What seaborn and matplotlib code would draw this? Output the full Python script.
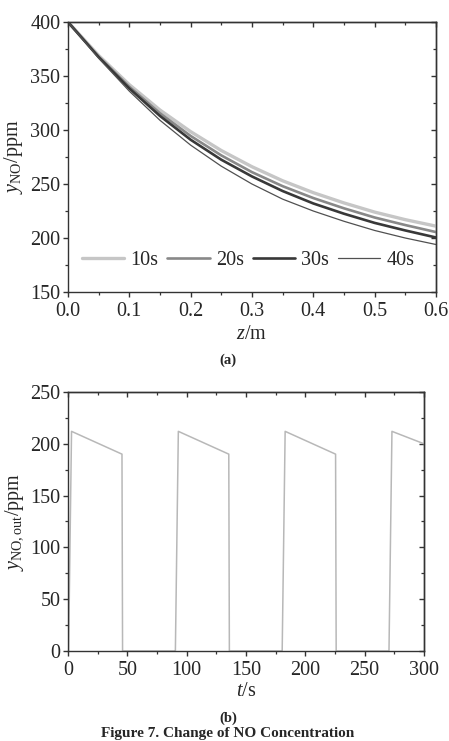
import numpy as np
import pandas as pd
import seaborn as sns
import matplotlib
matplotlib.use("Agg")
import matplotlib.pyplot as plt
from matplotlib.ticker import MultipleLocator

# panel (a): NO concentration along the bed at different times
z_pos = [0.0, 0.05, 0.1, 0.15, 0.2, 0.25, 0.3, 0.35, 0.4, 0.45, 0.5, 0.55, 0.6]
y_10s = [400, 369, 342, 318.5, 298.5, 281, 266, 253, 242, 232.5, 224, 217, 211]
y_20s = [400, 368, 340, 315.5, 294.5, 276.5, 261, 248, 237, 227.5, 219, 212, 205.5]
y_30s = [400, 367.5, 338.5, 313, 291, 272.5, 257, 243.5, 232, 222.5, 214, 207, 200.5]
y_40s = [400, 366.5, 336, 309, 286, 266.5, 250, 236, 225, 215.5, 207, 200, 194]
series_labels = ["10s", "20s", "30s", "40s"]

# panel (b): outlet NO concentration over time
t_out = [0, 0.5, 3, 45.5, 46, 90, 90.5, 93, 135.5, 136, 180, 180.5, 183,
         225.5, 226, 270, 270.5, 273, 300]
y_out = [0, 0, 212, 190, 0, 0, 0, 212, 190, 0, 0, 0, 212,
         190, 0, 0, 0, 212, 200]

sns.set_theme(style="ticks")
plt.rcParams["font.family"] = ["Liberation Serif", "DejaVu Serif"]
plt.rcParams["mathtext.fontset"] = "custom"
plt.rcParams["mathtext.rm"] = "Liberation Serif"
plt.rcParams["mathtext.it"] = "Liberation Serif:italic"
plt.rcParams["mathtext.bf"] = "Liberation Serif:bold"

FS = 14.5
EDGE = "#333333"

fig = plt.figure(figsize=(4.49, 7.41), dpi=100)
ax_a = fig.add_axes([0.1514, 0.6059, 0.8196, 0.3644])
ax_b = fig.add_axes([0.1514, 0.1215, 0.7929, 0.3495])


def style_axes(ax, xmaj, xmin, ymaj, ymin):
    for s in ax.spines.values():
        s.set_color(EDGE)
        s.set_linewidth(1.0)
    ax.xaxis.set_major_locator(MultipleLocator(xmaj))
    ax.xaxis.set_minor_locator(MultipleLocator(xmin))
    ax.yaxis.set_major_locator(MultipleLocator(ymaj))
    ax.yaxis.set_minor_locator(MultipleLocator(ymin))
    ax.tick_params(which="major", direction="out", length=3.5, width=1.0,
                   color=EDGE, labelsize=FS, pad=2)
    ax.tick_params(axis="x", which="major", pad=3.5)
    ax.tick_params(which="minor", direction="out", length=2.2, width=0.9, color=EDGE)
    top = ax.secondary_xaxis("top")
    right = ax.secondary_yaxis("right")
    for sec, loc in ((top, "x"), (right, "y")):
        axis = sec.xaxis if loc == "x" else sec.yaxis
        axis.set_major_locator(MultipleLocator(xmaj if loc == "x" else ymaj))
        axis.set_minor_locator(MultipleLocator(xmin if loc == "x" else ymin))
        sec.tick_params(which="major", direction="in", length=3.5, width=1.0, color=EDGE)
        sec.tick_params(which="minor", direction="in", length=2.2, width=0.9, color=EDGE)
        sec.tick_params(labeltop=False, labelright=False)
        for s in sec.spines.values():
            s.set_color(EDGE)
            s.set_linewidth(1.0)


# ---- panel (a)
styles = [("#c6c6c6", 2.4), ("#888888", 1.9), ("#383838", 1.9), ("#505050", 0.9)]
for vals, lab, (col, lw) in zip([y_10s, y_20s, y_30s, y_40s], series_labels, styles):
    sns.lineplot(x=z_pos, y=vals, ax=ax_a, color=col, linewidth=lw, label=lab)

ax_a.set_xlim(0, 0.6)
ax_a.set_ylim(150, 400)
style_axes(ax_a, 0.1, 0.05, 50, 25)
ax_a.set_xticklabels([f"{v:.1f}" for v in ax_a.get_xticks()])
ax_a.set_xlabel(r"$z$/m", fontsize=FS, labelpad=3)
ax_a.set_ylabel(r"$y_{\mathrm{NO}}$/ppm", fontsize=FS)
ax_a.yaxis.set_label_coords(-0.118, 0.5)
ax_a.legend(ncol=4, frameon=False, fontsize=FS, handlelength=2.1,
            handletextpad=0.3, columnspacing=0.45, loc="center",
            bbox_to_anchor=(0.49, 0.118), borderaxespad=0)

# ---- panel (b)
sns.lineplot(x=t_out, y=y_out, ax=ax_b, color="#b8b8b8", linewidth=1.1,
             sort=False, estimator=None)
ax_b.set_xlim(0, 300)
ax_b.set_ylim(0, 250)
style_axes(ax_b, 50, 25, 50, 25)
ax_b.set_xlabel(r"$t$/s", fontsize=FS, labelpad=2)
ax_b.set_ylabel(r"$y_{\mathrm{NO,out}}$/ppm", fontsize=FS)
ax_b.yaxis.set_label_coords(-0.118, 0.5)

fig.text(0.508, 0.514, "(a)", ha="center", va="center", fontsize=10.5, fontweight="bold")
fig.text(0.508, 0.031, "(b)", ha="center", va="center", fontsize=10.5, fontweight="bold")
fig.text(0.508, 0.002, "Figure 7. Change of NO Concentration", ha="center", va="bottom",
         fontsize=11.0, fontweight="bold")

fig.savefig("out.png", dpi=100)
